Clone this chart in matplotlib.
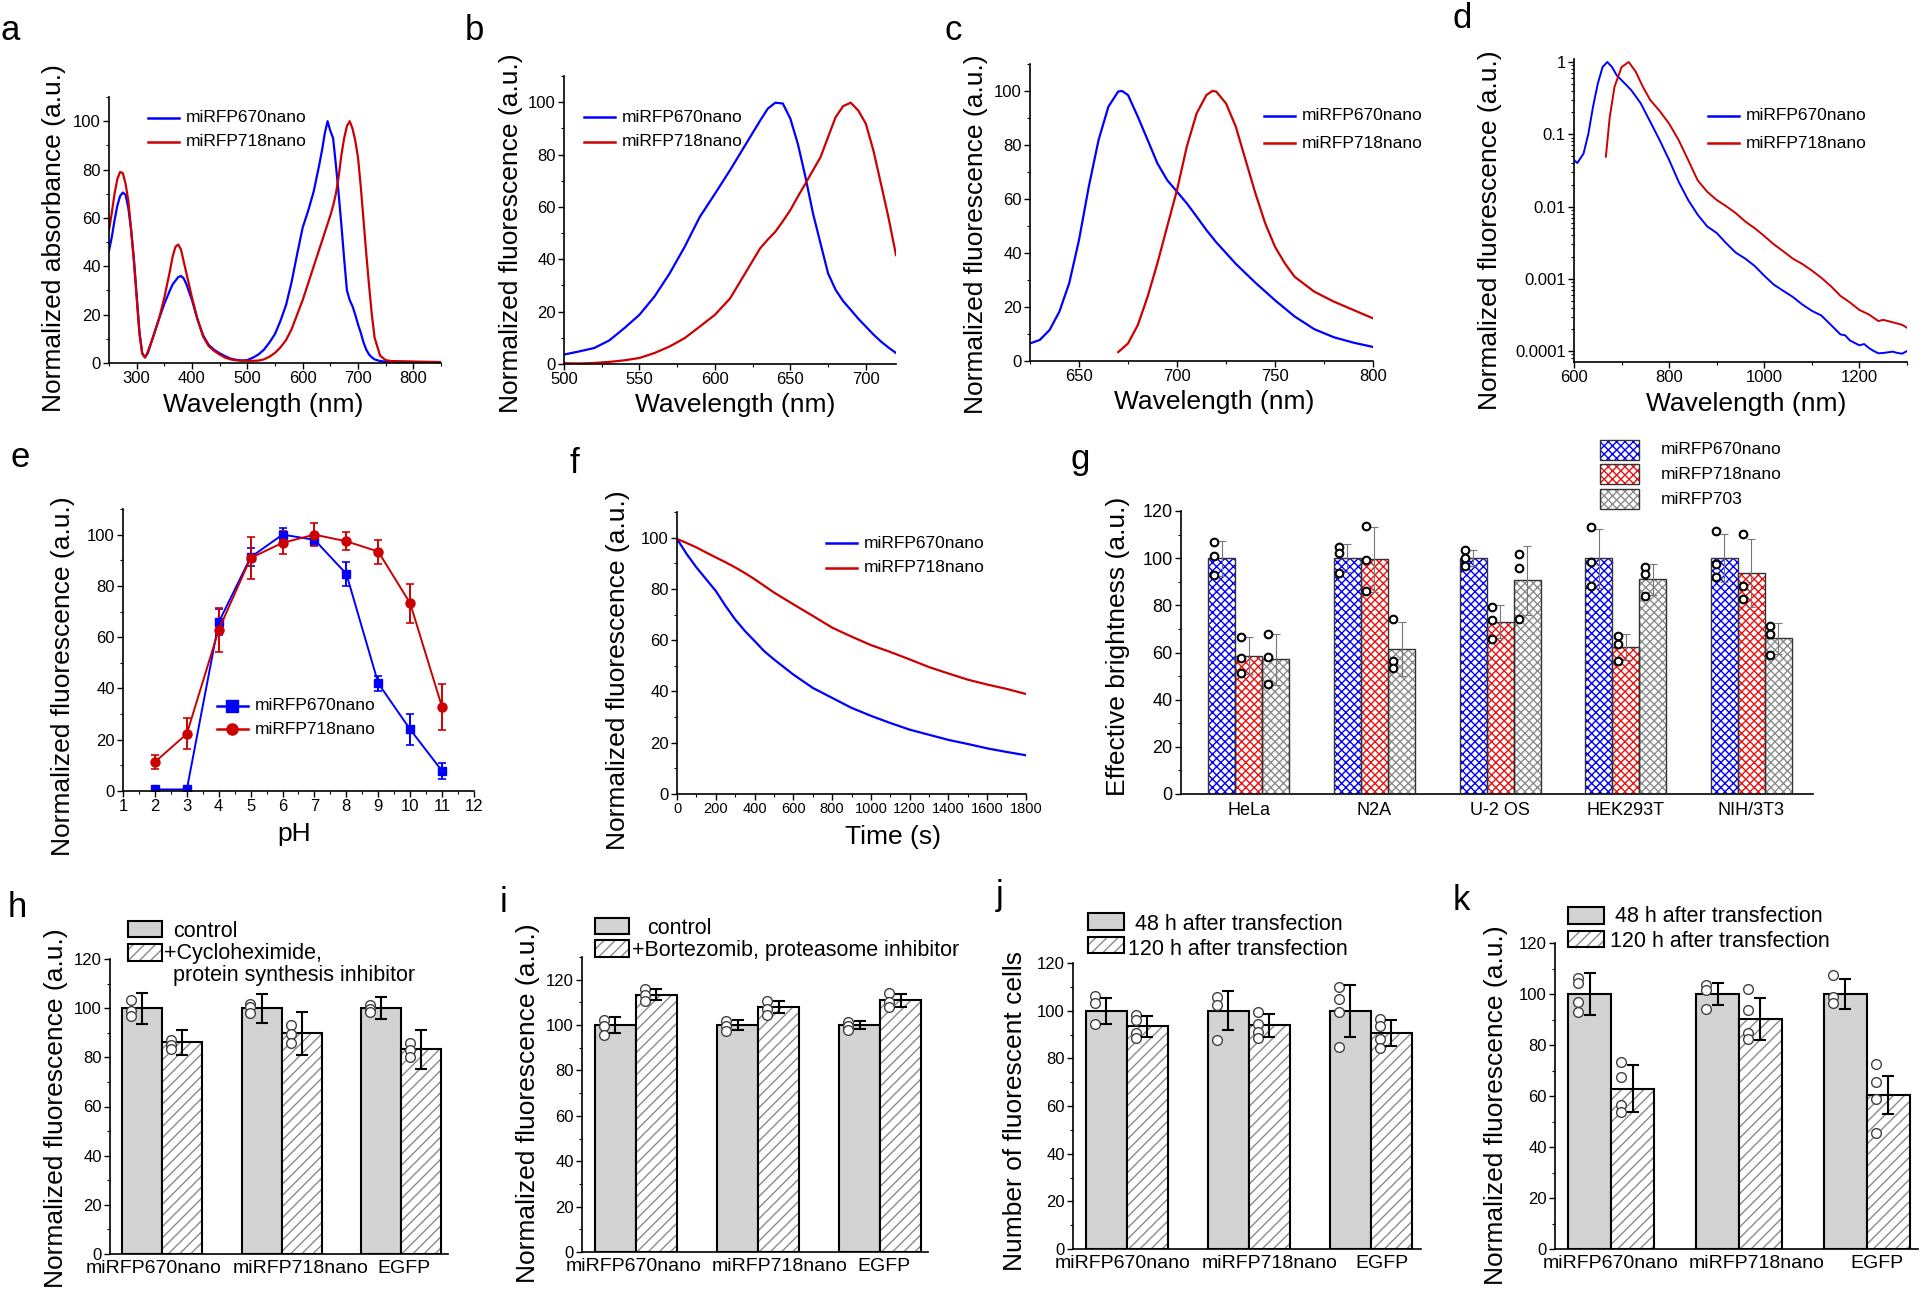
import numpy as np
import matplotlib
matplotlib.use('Agg')
import matplotlib.pyplot as plt
import matplotlib.transforms as mtransforms
from matplotlib.patches import Rectangle
from matplotlib.lines import Line2D
from matplotlib.ticker import MultipleLocator, FixedLocator, FixedFormatter, LogLocator, NullFormatter

plt.rcParams['font.family'] = ['Liberation Sans', 'DejaVu Sans']
plt.rcParams['hatch.linewidth'] = 1.0

# ---------------- data ----------------
names = ['miRFP670nano', 'miRFP718nano']

# a: absorbance spectra
a_wl = [250, 255, 260, 265, 270, 275, 280, 285, 290, 295, 300, 305, 310, 315, 320, 330, 340, 350,
        360, 365, 370, 375, 380, 385, 390, 400, 410, 420, 430, 440, 450, 460, 470, 480, 490, 500,
        510, 520, 530, 540, 550, 560, 570, 580, 590, 600, 610, 620, 630, 635, 640, 645, 650, 655,
        660, 665, 670, 675, 680, 685, 690, 695, 700, 705, 710, 715, 720, 725, 730, 740, 750, 760,
        780, 800, 820, 850]
a_670 = [46.5, 52, 59, 65, 69, 70.5, 69.5, 64, 55, 43, 28, 13, 4, 2.3, 4, 11, 18, 24.5,
         30, 32.5, 34, 35.5, 36, 35, 32.5, 26, 18, 11.5, 7.5, 5.5, 4, 2.8, 1.8, 1.3, 1.0, 1.2,
         2.2, 3.5, 5.5, 8.5, 12, 17.5, 24, 33.5, 45, 56, 63, 71, 82, 88, 95, 100, 96, 93,
         82, 70, 57, 43, 30, 26, 23.5, 20, 16, 12.5, 8.5, 5.5, 3.5, 2.3, 1.5, 0.8, 0.6, 0.5,
         0.5, 0.4, 0.4, 0.3]
a_718 = [55, 62, 70, 76, 79, 78.5, 74, 67, 55, 42, 27, 12, 4, 2.3, 4.5, 11, 18, 27,
         38, 44, 48, 49, 47, 42, 37, 27, 18, 11, 7, 5, 3.5, 2.2, 1.5, 1.1, 1.0, 0.9,
         0.9, 1.0, 1.5, 2.6, 4.2, 6.5, 9.5, 14, 20, 26, 33, 40, 47, 50.5, 54, 57.5, 61, 65,
         70, 77, 86, 93, 98, 100, 97, 92, 85, 73, 59, 45, 32, 20, 10.5, 3, 1.2, 0.8,
         0.7, 0.6, 0.5, 0.4]

# b: excitation spectra
b_wl = [500, 510, 520, 530, 540, 550, 560, 570, 580, 590, 600, 610, 620, 630, 635, 640, 645,
        650, 655, 660, 665, 670, 675, 680, 685, 690, 695, 700, 705, 710, 715, 720]
b_670 = [3.6, 4.8, 6.1, 9, 13.7, 18.8, 25.8, 34.6, 44.8, 56.2, 65, 74, 83.5, 93, 97.5, 99.8, 99.5,
         93.7, 84, 71.4, 57.5, 46, 34.6, 28.3, 24, 20.7, 17.3, 14.3, 11.3, 8.6, 6.3, 4.2]
b_718 = [0.3, 0.2, 0.4, 0.8, 1.4, 2.3, 4.2, 6.7, 9.9, 14.3, 18.8, 25, 34.6, 44.2, 47.5, 50.5, 54.5,
         58.8, 64, 68.9, 74, 79, 86.7, 94.3, 98.5, 99.8, 96.8, 91.8, 81.6, 68.9, 56, 41.6]

# c: emission spectra
c_wl_670 = [625, 630, 635, 640, 645, 650, 655, 660, 665, 670, 672, 675, 680, 685, 690, 695, 700,
            705, 710, 715, 720, 730, 740, 750, 760, 770, 780, 790, 800]
c_670 = [6.5, 7.8, 11.5, 18.3, 28.8, 44.8, 64.6, 81.9, 94.2, 99.8, 100, 98.5, 90.5, 81.9, 73.2,
         67, 62.7, 58.4, 53.5, 48.5, 44, 36, 29, 22.5, 16.5, 11.8, 8.8, 6.8, 5.2]
c_wl_718 = [670, 675, 680, 685, 690, 695, 700, 705, 710, 715, 718, 720, 725, 730, 735, 740, 745,
            750, 755, 760, 770, 780, 790, 800]
c_718 = [3.3, 6.5, 13.3, 23.8, 36.2, 49.8, 63.3, 79.4, 91.7, 98.5, 100, 99.8, 95.4, 86.8, 74.4,
         62.1, 51, 42.3, 36.2, 31.2, 25.7, 22, 18.9, 15.8]

# d: emission spectra, log scale
d_wl_670 = [600, 607, 620, 630, 640, 650, 660, 670, 680, 690, 700, 720, 740, 760, 780, 800, 820,
            840, 860, 880, 900, 920, 940, 960, 980, 1000, 1020, 1040, 1060, 1080, 1100, 1120,
            1140, 1160, 1170, 1180, 1200, 1210, 1220, 1230, 1240, 1250, 1260, 1270, 1280, 1290, 1300]
d_670 = [0.044, 0.040, 0.054, 0.1, 0.24, 0.50, 0.85, 1.0, 0.85, 0.65, 0.56, 0.41, 0.27, 0.15,
         0.083, 0.044, 0.022, 0.0123, 0.0077, 0.0053, 0.0043, 0.0031, 0.0023, 0.0019, 0.0015,
         0.0011, 0.00083, 0.00068, 0.00056, 0.00044, 0.00036, 0.00031, 0.00023, 0.00017,
         0.000165, 0.00014, 0.00012, 0.000125, 0.00011, 0.00010, 0.000093, 0.000094, 0.000096,
         0.000098, 0.000094, 0.000092, 0.0001]
d_wl_718 = [667, 675, 685, 700, 715, 730, 745, 760, 780, 800, 820, 840, 860, 880, 900, 920, 940,
            960, 980, 1000, 1020, 1040, 1060, 1080, 1100, 1120, 1140, 1160, 1180, 1200, 1220,
            1240, 1250, 1260, 1270, 1280, 1290, 1300]
d_718 = [0.049, 0.17, 0.45, 0.85, 1.0, 0.73, 0.45, 0.30, 0.21, 0.14, 0.083, 0.044, 0.023,
         0.016, 0.0123, 0.0101, 0.0081, 0.0062, 0.0050, 0.0039, 0.0030, 0.0024, 0.0019, 0.0016,
         0.0013, 0.00103, 0.00079, 0.00058, 0.00047, 0.00037, 0.00032, 0.00026, 0.00027,
         0.00026, 0.00025, 0.00024, 0.00023, 0.00021]

# e: pH dependence
e_ph = [2, 3, 4, 5, 6, 7, 8, 9, 10, 11]
e_670 = [0.6, 0.6, 65.8, 91.2, 100, 98, 84.7, 42, 24, 7.8]
e_670_err = [0.5, 0.5, 5, 3.4, 2.5, 2, 4.8, 3, 6, 3.2]
e_718 = [11.3, 22.3, 62.9, 90.9, 96.8, 100, 97.4, 93.4, 73.2, 32.7]
e_718_err = [2.9, 6, 8.5, 8.1, 4.5, 4.5, 3.5, 4.7, 7.5, 9]

# f: photobleaching
f_t = [0, 50, 100, 150, 200, 250, 300, 350, 400, 450, 500, 600, 700, 800, 900, 1000, 1100,
       1200, 1300, 1400, 1500, 1600, 1700, 1800]
f_670 = [99.5, 93.6, 88.4, 83.8, 79.2, 73.4, 68.1, 63.6, 59.7, 55.7, 52.5, 46.6, 41.4, 37.5,
         33.6, 30.5, 27.7, 25.1, 23.1, 21.1, 19.5, 17.8, 16.4, 15.1]
f_718 = [99.5, 97.9, 96.2, 94.2, 92.3, 90.4, 88.4, 86.2, 83.8, 81.2, 78.6, 74, 69.5, 64.9,
         61.4, 58.1, 55.4, 52.5, 49.5, 47, 44.6, 42.7, 41, 39]

# g: effective brightness
g_cells = ['HeLa', 'N2A', 'U-2 OS', 'HEK293T', 'NIH/3T3']
g_names = ['miRFP670nano', 'miRFP718nano', 'miRFP703']
g_670 = [100, 100, 100, 100, 100]
g_670_err = [7.4, 5.9, 3.3, 12.5, 10.1]
g_670_dots = [[107, 101, 92.9], [104.9, 102, 93.6], [103.5, 100.2, 96.7], [113.1, 98.5, 88.3],
              [111.5, 97.4, 91.9]]
g_718 = [58.7, 99.6, 73.1, 62.2, 93.9]
g_718_err = [7.7, 13.8, 7.0, 5.5, 14.4]
g_718_dots = [[66.4, 57.5, 51.4], [113.6, 99.2, 86.2], [79.4, 73.8, 65.9], [67, 63.6, 56.5],
              [110.1, 88.3, 82.7]]
g_703 = [57.2, 61.5, 90.6, 91, 66]
g_703_err = [10.8, 11.4, 14.6, 6.5, 6.7]
g_703_dots = [[67.7, 58.2, 46.5], [74.2, 56.5, 53.6], [101.8, 96, 74.1], [96.4, 93.1, 84],
              [71.4, 67.8, 58.9]]

# h-k: paired bars
hk_cats = ['miRFP670nano', 'miRFP718nano', 'EGFP']

h_labels = ['control', '+Cycloheximide,', 'protein synthesis inhibitor']
h_ctrl = [100, 100, 100]
h_ctrl_err = [6.3, 5.9, 4.6]
h_ctrl_dots = [[103.4, 99, 96.9], [101.8, 100.5, 98], [101.1, 99.5, 98.3]]
h_trt = [86.1, 89.7, 83.2]
h_trt_err = [5, 8.7, 7.9]
h_trt_dots = [[87.1, 85, 83.3], [93.1, 89.6, 85.8], [86, 82.8, 80.1]]

i_labels = ['control', '+Bortezomib, proteasome inhibitor']
i_ctrl = [100, 100, 100]
i_ctrl_err = [3.7, 2.1, 1.6]
i_ctrl_dots = [[102.4, 99.5, 95.5], [101.8, 99.5, 97.4], [101.4, 99.7, 98]]
i_trt = [113.4, 108, 110.9]
i_trt_err = [2.4, 2.8, 2.9]
i_trt_dots = [[116, 113.1, 110.6], [110.5, 107.3, 104.3], [114.1, 110.2, 108]]

jk_labels = ['48 h after transfection', '120 h after transfection']
j_48 = [100, 100, 100]
j_48_err = [5.5, 8.2, 10.9]
j_48_dots = [[106, 103.2, 94.5], [105.7, 102.5, 87.6], [110, 104.9, 99.3, 84.6]]
j_120 = [93.4, 93.8, 90.6]
j_120_err = [4.5, 4.8, 5.3]
j_120_dots = [[98, 95.9, 90.6, 88.5], [99.4, 94.4, 91, 88.5], [96.6, 93.4, 88.1, 84.2]]

k_48 = [100, 100, 100]
k_48_err = [8.3, 4.2, 6]
k_48_dots = [[106.2, 104.5, 96.7, 92.8], [103.6, 101.4, 94.1], [107.3, 99, 96.4]]
k_120 = [62.8, 90.3, 60.4]
k_120_err = [9.2, 8.2, 7.5]
k_120_dots = [[73.5, 67.6, 56.5, 53.9], [102, 93.8, 84.6, 82.3], [72.6, 65.6, 58.7, 45.6]]

# ---------------- figure ----------------
W, H = 1920, 1289
fig = plt.figure(figsize=(W / 100, H / 100), dpi=100)

BLUE = '#0000ff'
RED = '#cc0000'
FL = 'Normalized fluorescence (a.u.)'


def fy(py):
    return 1 - py / H


def add_ax(l, t, r, b):
    ax = fig.add_axes([l / W, 1 - b / H, (r - l) / W, (b - t) / H])
    for s in ('top', 'right'):
        ax.spines[s].set_visible(False)
    for s in ('left', 'bottom'):
        ax.spines[s].set_linewidth(1.2)
    ax.tick_params(which='major', direction='out', length=4, width=1, labelsize=12, pad=2)
    ax.tick_params(which='minor', direction='out', length=2.5, width=0.8)
    return ax


def ylab(ax, text, x_right, y_mid, size=19):
    ax.set_ylabel(text, fontsize=size)
    ax.yaxis.set_label_coords(x_right / W, fy(y_mid), transform=fig.transFigure)


def xlab(ax, text, x_mid, y_top, size=19):
    ax.set_xlabel(text, fontsize=size)
    ax.xaxis.set_label_coords(x_mid / W, fy(y_top), transform=fig.transFigure)


def letter(ch, x, y):
    fig.text(x / W, fy(y), ch, fontsize=25, va='baseline', ha='left')


def line_legend(x0, y0, dy, labels, colors, markers=(None, None), size=12.5):
    for i, (lab, c) in enumerate(zip(labels, colors)):
        y = fy(y0 + i * dy)
        fig.add_artist(Line2D([x0 / W, (x0 + 15) / W, (x0 + 31) / W], [y, y, y], color=c,
                              lw=1.8, marker=markers[i], ms=8, markevery=[1]))
        fig.text((x0 + 38) / W, y, lab, fontsize=size, va='center', ha='left')


def yticks_std(ax, top, step=20, minor=10):
    ax.set_ylim(0, top)
    ax.yaxis.set_major_locator(FixedLocator(np.arange(0, min(top, 120) + 1, step)))
    ax.yaxis.set_minor_locator(MultipleLocator(minor))


# ---- a ----
ax = add_ax(109, 97, 441, 363)
ax.plot(a_wl, a_670, color=BLUE, lw=1.6)
ax.plot(a_wl, a_718, color=RED, lw=1.6)
ax.set_xlim(250, 850)
ax.xaxis.set_major_locator(FixedLocator([300, 400, 500, 600, 700, 800]))
ax.xaxis.set_minor_locator(MultipleLocator(50))
yticks_std(ax, 110)
ylab(ax, 'Normalized absorbance (a.u.)', 66, 238)
xlab(ax, 'Wavelength (nm)', 263, 393)
line_legend(148, 118, 24, names, [BLUE, RED])
letter('a', 1, 40)

# ---- b ----
ax = add_ax(564, 76, 896, 364)
ax.plot(b_wl, b_670, color=BLUE, lw=1.6)
ax.plot(b_wl, b_718, color=RED, lw=1.6)
ax.set_xlim(500, 720)
ax.xaxis.set_major_locator(FixedLocator([500, 550, 600, 650, 700]))
ax.xaxis.set_minor_locator(MultipleLocator(25))
yticks_std(ax, 110)
ylab(ax, FL, 523, 233)
xlab(ax, 'Wavelength (nm)', 735, 393)
line_legend(584, 117, 25, names, [BLUE, RED])
letter('b', 465, 40)

# ---- c ----
ax = add_ax(1030, 64, 1373, 361)
ax.plot(c_wl_670, c_670, color=BLUE, lw=1.6)
ax.plot(c_wl_718, c_718, color=RED, lw=1.6)
ax.set_xlim(625, 800)
ax.xaxis.set_major_locator(FixedLocator([650, 700, 750, 800]))
ax.xaxis.set_minor_locator(MultipleLocator(25))
yticks_std(ax, 110)
ylab(ax, FL, 988, 234)
xlab(ax, 'Wavelength (nm)', 1214, 390)
line_legend(1264, 116, 27, names, [BLUE, RED])
letter('c', 945, 40)

# ---- d ----
ax = add_ax(1574, 59, 1907, 362)
ax.plot(d_wl_670, d_670, color=BLUE, lw=1.4)
ax.plot(d_wl_718, d_718, color=RED, lw=1.4)
ax.set_yscale('log')
ax.set_ylim(7.05e-5, 1.1)
ax.set_xlim(600, 1300)
ax.yaxis.set_major_locator(FixedLocator([1e-4, 1e-3, 1e-2, 1e-1, 1]))
ax.yaxis.set_major_formatter(FixedFormatter(['0.0001', '0.001', '0.01', '0.1', '1']))
ax.yaxis.set_minor_locator(LogLocator(base=10, subs=np.arange(2, 10), numticks=20))
ax.yaxis.set_minor_formatter(NullFormatter())
ax.xaxis.set_major_locator(FixedLocator([600, 800, 1000, 1200]))
ax.xaxis.set_minor_locator(MultipleLocator(100))
ylab(ax, FL, 1502, 230)
xlab(ax, 'Wavelength (nm)', 1746, 392)
line_legend(1708, 116, 27, names, [BLUE, RED])
letter('d', 1453, 28)

# ---- e ----
ax = add_ax(123, 509, 474, 791)
ax.errorbar(e_ph, e_670, yerr=e_670_err, color=BLUE, marker='s', ms=6, lw=1.4,
            capsize=3, elinewidth=1.4, capthick=1.2)
ax.errorbar(e_ph, e_718, yerr=e_718_err, color=RED, marker='o', ms=6.5, lw=1.4,
            capsize=3, elinewidth=1.4, capthick=1.2)
ax.set_xlim(1, 12)
ax.xaxis.set_major_locator(MultipleLocator(1))
ax.xaxis.set_minor_locator(MultipleLocator(0.5))
yticks_std(ax, 110)
ylab(ax, FL, 75, 676)
xlab(ax, 'pH', 294, 822)
line_legend(217, 706, 23, names, [BLUE, RED], markers=('s', 'o'))
letter('e', 10, 467)

# ---- f ----
ax = add_ax(677, 512, 1026, 794)
ax.plot(f_t, f_670, color=BLUE, lw=1.6)
ax.plot(f_t, f_718, color=RED, lw=1.6)
ax.set_xlim(0, 1800)
ax.xaxis.set_major_locator(MultipleLocator(200))
ax.xaxis.set_minor_locator(MultipleLocator(100))
ax.tick_params(axis='x', labelsize=10.5)
yticks_std(ax, 110)
ylab(ax, FL, 630, 670)
xlab(ax, 'Time (s)', 893, 825)
line_legend(826, 543, 25, names, [BLUE, RED])
letter('f', 570, 473)

# ---- g ----
ax = add_ax(1181, 511, 1813, 794)
gx = np.arange(len(g_cells))
gw = 0.215
g_series = [(g_670, g_670_err, g_670_dots, BLUE), (g_718, g_718_err, g_718_dots, '#ee1111'),
            (g_703, g_703_err, g_703_dots, '#8c8c8c')]
for k, (vals, errs, dots, col) in enumerate(g_series):
    pos = gx + (k - 1) * gw
    ax.bar(pos, vals, gw, color='white', edgecolor=col, hatch='xxxx', linewidth=0, zorder=2)
    ax.bar(pos, vals, gw, fill=False, edgecolor='#333333', linewidth=1.0, zorder=3)
    ax.errorbar(pos, vals, yerr=errs, fmt='none', ecolor='#777777', elinewidth=0.8,
                capsize=3, capthick=0.8, zorder=4)
    for i, d in enumerate(dots):
        ax.plot([pos[i] - 0.3 * gw] * len(d), d, 'o', mfc='white', mec='black', ms=5.5,
                mew=1.5, zorder=5)
ax.set_xlim(-0.54, 4.49)
ax.set_xticks(gx)
ax.set_xticklabels(g_cells)
ax.tick_params(axis='x', length=0, labelsize=13, pad=6)
ax.tick_params(axis='y', labelsize=13)
yticks_std(ax, 120)
ylab(ax, 'Effective brightness (a.u.)', 1130, 646)
g_rows = [(440, 460), (464, 484), (489, 509)]
for (t, b), lab, (_, _, _, col) in zip(g_rows, g_names, g_series):
    fig.add_artist(Rectangle((1600 / W, fy(b)), 39 / W, (b - t) / H, facecolor='white',
                             edgecolor=col, hatch='xxxx', linewidth=0))
    fig.add_artist(Rectangle((1600 / W, fy(b)), 39 / W, (b - t) / H, fill=False,
                             edgecolor='#333333', linewidth=1.0))
    fig.text(1661 / W, fy((t + b) / 2), lab, fontsize=12.5, va='center', ha='left')
letter('g', 1070, 469)


# ---- h-k ----
CTRL = '#d3d3d3'
HATCH = '#8a8a8a'


def pair_panel(box, xlim, ytop, label_shift, ctrl, ctrl_err, ctrl_dots, trt, trt_err, trt_dots):
    ax = add_ax(*box)
    x = np.arange(len(hk_cats))
    w = 0.335
    ax.bar(x - w / 2, ctrl, w, color=CTRL, edgecolor='black', linewidth=1.5, zorder=2)
    ax.bar(x + w / 2, trt, w, color='white', edgecolor=HATCH, hatch='///', linewidth=0, zorder=2)
    ax.bar(x + w / 2, trt, w, fill=False, edgecolor='black', linewidth=1.5, zorder=3)
    for pos, vals, errs, dots in ((x - w / 2, ctrl, ctrl_err, ctrl_dots),
                                  (x + w / 2, trt, trt_err, trt_dots)):
        for i, d in enumerate(dots):
            ax.plot([pos[i] - 0.28 * w] * len(d), d, 'o', mfc='white', mec='#404040', ms=7,
                    mew=1.0, zorder=4)
        ax.errorbar(pos, vals, yerr=errs, fmt='none', ecolor='black', elinewidth=1.5,
                    capsize=4, capthick=1.5, zorder=5)
    ax.set_xlim(*xlim)
    ax.set_xticks(x)
    ax.set_xticklabels(hk_cats)
    ax.tick_params(axis='x', length=0, labelsize=14, pad=4)
    # category labels sit slightly off the group centres, as in the original
    for lab, dx in zip(ax.get_xticklabels(), label_shift):
        lab.set_transform(lab.get_transform() +
                          mtransforms.ScaledTranslation(dx / 100, 0, fig.dpi_scale_trans))
    yticks_std(ax, ytop)
    return ax


def box_legend(x0, x1, rows, texts):
    # rows: (top, bottom) of each legend box; texts: (label, x, baseline)
    for k, (t, b) in enumerate(rows):
        if k == 0:
            fig.add_artist(Rectangle((x0 / W, fy(b)), (x1 - x0) / W, (b - t) / H,
                                     facecolor=CTRL, edgecolor='black', linewidth=1.5))
        else:
            fig.add_artist(Rectangle((x0 / W, fy(b)), (x1 - x0) / W, (b - t) / H,
                                     facecolor='white', edgecolor=HATCH, hatch='///',
                                     linewidth=0))
            fig.add_artist(Rectangle((x0 / W, fy(b)), (x1 - x0) / W, (b - t) / H,
                                     fill=False, edgecolor='black', linewidth=1.5))
    for lab, tx, base in texts:
        fig.text(tx / W, fy(base), lab, fontsize=15.5, va='baseline', ha='left')


# h
ax = pair_panel((110, 959, 448, 1254), (-0.435, 2.39), 120, (-8, 19, 3),
                h_ctrl, h_ctrl_err, h_ctrl_dots, h_trt, h_trt_err, h_trt_dots)
ylab(ax, FL, 68, 1108)
box_legend(128, 162, [(921, 937), (944, 961)],
           [(h_labels[0], 173, 937), (h_labels[1], 164, 959), (h_labels[2], 173, 981)])
letter('h', 8, 917)

# i
ax = pair_panel((582, 957, 928, 1252), (-0.44, 2.39), 130, (-2, 22, 4),
                i_ctrl, i_ctrl_err, i_ctrl_dots, i_trt, i_trt_err, i_trt_dots)
ylab(ax, FL, 540, 1103)
box_legend(595, 629, [(918, 934), (940, 957)],
           [(i_labels[0], 647, 934), (i_labels[1], 632, 956)])
letter('i', 500, 912)

# j
ax = pair_panel((1073, 963, 1421, 1249), (-0.44, 2.41), 120, (-4, 21, 11),
                j_48, j_48_err, j_48_dots, j_120, j_120_err, j_120_dots)
ylab(ax, 'Number of fluorescent cells', 1027, 1111)
box_legend(1088, 1124, [(913, 930), (937, 953)],
           [(jk_labels[0], 1135, 930), (jk_labels[1], 1128, 955)])
letter('j', 996, 905)

# k
ax = pair_panel((1555, 943, 1918, 1249), (-0.44, 2.40), 120, (-1, 18, 10),
                k_48, k_48_err, k_48_dots, k_120, k_120_err, k_120_dots)
ylab(ax, FL, 1508, 1105)
box_legend(1568, 1604, [(907, 924), (931, 947)],
           [(jk_labels[0], 1615, 922), (jk_labels[1], 1610, 947)])
letter('k', 1453, 910)

fig.savefig('out.png', dpi=100, facecolor='white')
